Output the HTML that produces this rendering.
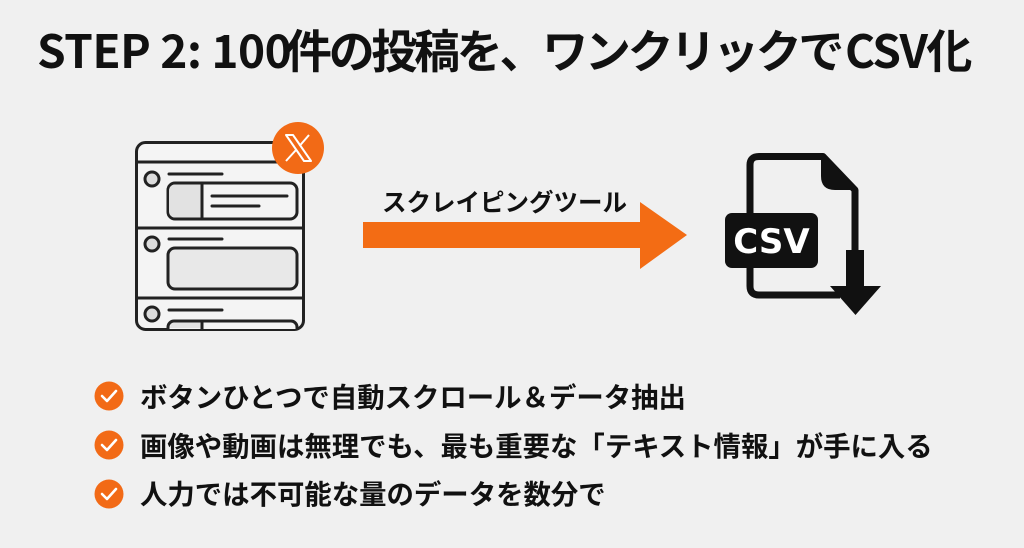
<!DOCTYPE html>
<html><head><meta charset="utf-8">
<style>
html,body{margin:0;padding:0;}
body{width:1024px;height:548px;background:#f0f0f0;position:relative;overflow:hidden;font-family:"Liberation Sans","Noto Sans CJK JP",sans-serif;}
.t{position:absolute;white-space:nowrap;font-family:"Noto Sans CJK JP","Liberation Sans",sans-serif;font-weight:700;color:#111;}
svg{position:absolute;left:0;top:0;}
</style></head>
<body>
<svg width="1024" height="548" viewBox="0 0 1024 548">
  <!-- browser window -->
  <g fill="none" stroke="#222" stroke-width="3" stroke-linecap="round">
    <rect x="136.5" y="142.5" width="167" height="187" rx="9" fill="#f4f4f4"/>
    <line x1="136.5" y1="162" x2="303.5" y2="162"/>
    <line x1="136.5" y1="228" x2="303.5" y2="228"/>
    <line x1="136.5" y1="298" x2="303.5" y2="298"/>
    <!-- row1 -->
    <circle cx="152" cy="179" r="7" fill="#dcdcdc"/>
    <line x1="169" y1="174" x2="222" y2="174"/>
    <rect x="168" y="183" width="129" height="36" rx="7" fill="#f4f4f4"/>
    <path d="M202 184.5 H175 a6 6 0 0 0 -6 6 V211.5 a6 6 0 0 0 6 6 H202 Z" fill="#e2e2e2" stroke="none"/>
    <line x1="202" y1="183" x2="202" y2="219"/>
    <line x1="212" y1="196" x2="287" y2="196"/>
    <line x1="212" y1="206" x2="259" y2="206"/>
    <!-- row2 -->
    <circle cx="152" cy="244" r="7" fill="#dcdcdc"/>
    <line x1="169" y1="239" x2="222" y2="239"/>
    <rect x="168" y="248" width="129" height="41" rx="7" fill="#e8e8e8"/>
    <!-- row3 -->
    <circle cx="152" cy="314" r="7" fill="#dcdcdc"/>
    <line x1="169" y1="310" x2="222" y2="310"/>
    <path d="M168 329 V327 a6 6 0 0 1 6 -6 H291 a6 6 0 0 1 6 6 V329" fill="#f4f4f4"/>
    <path d="M202 322.5 H175 a5 5 0 0 0 -5 5 V328 H202 Z" fill="#e2e2e2" stroke="none"/>
    <line x1="202" y1="321" x2="202" y2="329"/>
  </g>
  <!-- X badge -->
  <circle cx="298" cy="148" r="26" fill="#f26a16"/>
  <g stroke="#fff" stroke-width="2" fill="#f26a16" stroke-linejoin="round">
    <polygon points="286,135 293,135 311,161 304,161"/>
    <line x1="309" y1="135" x2="299.5" y2="146"/>
    <line x1="296" y1="150" x2="286" y2="161"/>
  </g>
  <!-- orange arrow -->
  <polygon points="363,222 640,222 640,202 687,235 640,269 640,248 363,248" fill="#f36c14"/>
  <!-- CSV doc -->
  <g fill="none" stroke="#111" stroke-width="7" stroke-linejoin="round">
    <path d="M750 213 V165 Q750 156.5 759 156.5 H823 L855 190 V252"/>
    <path d="M750 268 V286 Q750 295 759 295 H840"/>
  </g>
  <path d="M821 153 L858 190 L835 190 Q821 190 821 176 Z" fill="#111"/>
  <rect x="725" y="213" width="93" height="55" rx="7" fill="#111"/>
  <text x="771.5" y="253" text-anchor="middle" font-family="DejaVu Sans, Liberation Sans, sans-serif" font-weight="700" font-size="34" fill="#fff">CSV</text>
  <rect x="846" y="250" width="18" height="38" fill="#111"/>
  <polygon points="830,286 881,286 855.5,315" fill="#111"/>
  <!-- check circles -->
  <g>
    <circle cx="109" cy="396" r="14.5" fill="#f26a16"/>
    <polyline points="102,396 107,401 116,391" fill="none" stroke="#fff" stroke-width="2.6" stroke-linecap="round" stroke-linejoin="round"/>
    <circle cx="109" cy="445" r="14.5" fill="#f26a16"/>
    <polyline points="102,445 107,450 116,440" fill="none" stroke="#fff" stroke-width="2.6" stroke-linecap="round" stroke-linejoin="round"/>
    <circle cx="109" cy="494" r="14.5" fill="#f26a16"/>
    <polyline points="102,494 107,499 116,489" fill="none" stroke="#fff" stroke-width="2.6" stroke-linecap="round" stroke-linejoin="round"/>
  </g>
</svg>

<div class="t" style="left:37px;top:26px;font-size:46px;line-height:46px;letter-spacing:-0.5px;">STEP 2: 100</div>
<div class="t" style="left:286px;top:26px;font-size:46px;line-height:46px;letter-spacing:-3.3px;">件の投稿を、ワンクリックで</div>
<div class="t" style="left:845px;top:26px;font-size:46px;line-height:46px;letter-spacing:-1.5px;">CSV化</div>

<div class="t" style="left:382px;top:189px;font-size:24.5px;line-height:25px;">スクレイピングツール</div>

<div class="t" style="left:140px;top:381px;font-size:27.4px;line-height:28px;">ボタンひとつで自動スクロール＆データ抽出</div>
<div class="t" style="left:140px;top:430px;font-size:27.4px;line-height:28px;">画像や動画は無理でも、最も重要な「テキスト情報」が手に入る</div>
<div class="t" style="left:140px;top:478px;font-size:27.4px;line-height:28px;">人力では不可能な量のデータを数分で</div>
</body></html>
